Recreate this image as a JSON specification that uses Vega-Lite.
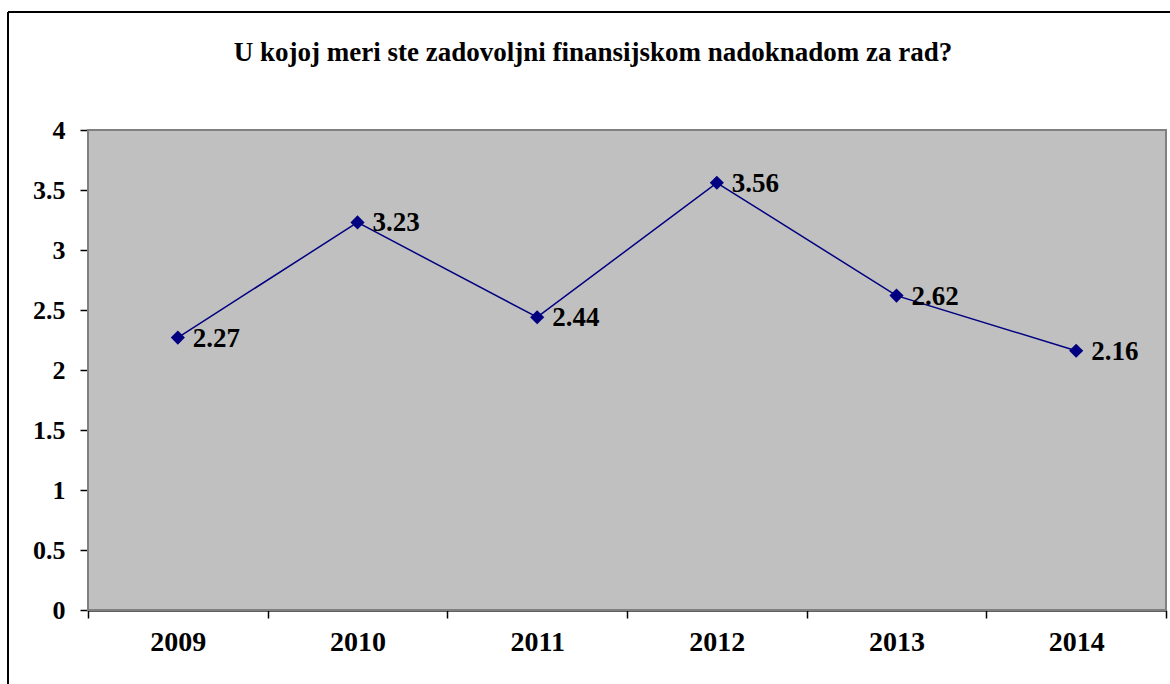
{
  "$schema": "https://vega.github.io/schema/vega-lite/v6.json",
  "autosize": "none",
  "width": 1162,
  "height": 672,
  "padding": {"left": 8, "top": 12, "right": 0, "bottom": 0},
  "background": "white",
  "config": {
    "view": {"stroke": "black", "strokeWidth": 2, "fill": "white", "strokeDash": [1162, 1834, 672, 0]},
    "axis": {"zindex": 1}
  },
  "title": {
    "text": "U kojoj meri ste zadovoljni finansijskom nadoknadom za rad?",
    "font": "Liberation Serif",
    "fontSize": 27,
    "fontWeight": "bold",
    "color": "black",
    "anchor": "middle",
    "frame": "group",
    "orient": "top",
    "baseline": "alphabetic",
    "offset": -76,
    "dx": 4
  },
  "layer": [
    {
      "data": {"values": [{"panel": "plot"}]},
      "mark": {"type": "rect", "fill": "#C0C0C0", "stroke": "#808080", "strokeWidth": 2},
      "encoding": {
        "x": {"datum": 2008.5, "type": "quantitative"},
        "x2": {"datum": 2014.5},
        "y": {"datum": 0, "type": "quantitative"},
        "y2": {"datum": 4}
      }
    },
    {
      "data": {"values": [
        {"year": 2009, "value": 2.27},
        {"year": 2010, "value": 3.23},
        {"year": 2011, "value": 2.44},
        {"year": 2012, "value": 3.56},
        {"year": 2013, "value": 2.62},
        {"year": 2014, "value": 2.16}
      ]},
      "encoding": {
        "x": {
          "field": "year",
          "type": "quantitative",
          "scale": {"domain": [2008.5, 2014.5], "range": [80, 1158], "nice": false, "zero": false},
          "axis": {
            "orient": "bottom",
            "offset": -74,
            "title": null,
            "grid": false,
            "values": [2008.5, 2009, 2009.5, 2010, 2010.5, 2011, 2011.5, 2012, 2012.5, 2013, 2013.5, 2014, 2014.5],
            "labelExpr": "datum.value % 1 === 0 ? '' + datum.value : ''",
            "labelOverlap": false,
            "labelFlush": false,
            "labelFont": "Liberation Serif",
            "labelFontSize": 28,
            "labelFontWeight": "bold",
            "labelColor": "black",
            "labelPadding": 18,
            "tickColor": "black",
            "tickWidth": 1.5,
            "tickSize": {"condition": {"test": "datum.value % 1 === 0", "value": 0}, "value": 8},
            "domainColor": "black",
            "domainWidth": 2
          }
        },
        "y": {
          "field": "value",
          "type": "quantitative",
          "scale": {"domain": [0, 4], "range": [598, 118], "nice": false, "zero": true},
          "axis": {
            "orient": "left",
            "offset": -80,
            "title": null,
            "values": [0, 0.5, 1, 1.5, 2, 2.5, 3, 3.5, 4],
            "labelExpr": "'' + datum.value",
            "labelFont": "Liberation Serif",
            "labelFontSize": 26,
            "labelFontWeight": "bold",
            "labelColor": "black",
            "labelPadding": 15,
            "tickColor": "black",
            "tickWidth": 1.5,
            "tickSize": 8,
            "domainColor": "black",
            "domainWidth": 2,
            "grid": true,
            "gridColor": {"condition": {"test": "datum.value === 4", "value": "#808080"}, "value": "black"},
            "gridWidth": 1.5,
            "gridOpacity": 1
          }
        }
      },
      "layer": [
        {"mark": {"type": "line", "color": "#000080", "strokeWidth": 1.5}},
        {"mark": {"type": "point", "shape": "diamond", "filled": true, "size": 200, "color": "#000080", "opacity": 1}},
        {
          "mark": {"type": "text", "align": "left", "baseline": "middle", "dx": 15, "dy": 1, "font": "Liberation Serif", "fontSize": 27, "fontWeight": "bold", "color": "black"},
          "encoding": {"text": {"field": "value", "type": "quantitative", "format": ".2f"}}
        }
      ]
    }
  ]
}
